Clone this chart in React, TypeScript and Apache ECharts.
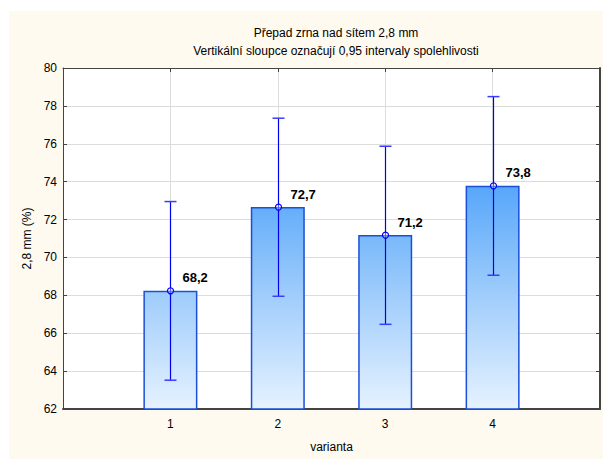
import React, { useEffect, useRef } from "react";
import * as echarts from "echarts";

const categories = [1, 2, 3, 4];
const means = [68.24, 72.66, 71.18, 73.78];
const lower = [63.52, 67.95, 66.47, 69.06];
const upper = [72.95, 77.35, 75.87, 78.49];
const valueLabels = ["68,2", "72,7", "71,2", "73,8"];
const yMin = 62;
const yMax = 80;
const yInterval = 2;
const xMin = 0;
const xMax = 5;

const FONT = "'Liberation Sans', Arial, sans-serif";

export default function App() {
  const ref = useRef<HTMLDivElement>(null);

  useEffect(() => {
    document.body.style.margin = "0";
    if (!ref.current) return;
    const chart = echarts.init(ref.current, undefined, { renderer: "svg" });

    const barColor = new echarts.graphic.LinearGradient(
      0,
      68,
      0,
      409,
      [
        { offset: 0, color: "#3c96f6" },
        { offset: 0.35, color: "#58a7fa" },
        { offset: 0.65, color: "#9ccbfb" },
        { offset: 1, color: "#e6f2ff" },
      ],
      true
    );

    const option: any = {
      animation: false,
      textStyle: { fontFamily: FONT },
      graphic: [
        {
          type: "rect",
          z: -100,
          shape: { x: 9, y: 11, width: 594, height: 448 },
          style: { fill: "#fefaf0" },
        },
      ],
      title: [
        {
          text: "Přepad zrna nad sítem 2,8 mm",
          left: 331,
          top: 22,
          textAlign: "center",
          textStyle: { fontSize: 12, fontWeight: "normal", color: "#000", fontFamily: FONT },
        },
        {
          text: "Vertikální sloupce označují 0,95 intervaly spolehlivosti",
          left: 331,
          top: 40,
          textAlign: "center",
          textStyle: { fontSize: 12, fontWeight: "normal", color: "#000", fontFamily: FONT },
        },
      ],
      grid: {
        left: 63,
        top: 68,
        width: 537,
        height: 341,
        show: true,
        backgroundColor: "#ffffff",
        borderWidth: 0,
      },
      xAxis: [
        {
          type: "value",
          min: xMin,
          max: xMax,
          interval: 1,
          position: "bottom",
          axisLine: { show: true, onZero: false, lineStyle: { color: "#444", width: 2 } },
          axisTick: { show: true, inside: true, length: 4, lineStyle: { color: "#444" } },
          axisLabel: {
            color: "#000",
            fontSize: 12,
            margin: 9,
            fontFamily: FONT,
            formatter: (v: number) => (categories.includes(v) ? String(v) : ""),
          },
          splitLine: { show: true, lineStyle: { color: "#dcdcdc", width: 1 } },
          name: "varianta",
          nameLocation: "middle",
          nameGap: 32,
          nameTextStyle: { color: "#000", fontSize: 12, fontFamily: FONT },
        },
        {
          type: "value",
          min: xMin,
          max: xMax,
          interval: 1,
          position: "top",
          axisLine: { show: true, onZero: false, lineStyle: { color: "#444", width: 1 } },
          axisTick: { show: true, inside: true, length: 4, lineStyle: { color: "#444" } },
          axisLabel: { show: false },
          splitLine: { show: false },
        },
      ],
      yAxis: [
        {
          type: "value",
          min: yMin,
          max: yMax,
          interval: yInterval,
          position: "left",
          axisLine: { show: true, onZero: false, lineStyle: { color: "#444", width: 1 } },
          axisTick: { show: true, inside: true, length: 4, lineStyle: { color: "#444" } },
          axisLabel: { color: "#000", fontSize: 12, margin: 6, fontFamily: FONT },
          splitLine: { show: true, lineStyle: { color: "#dcdcdc", width: 1 } },
          name: "2,8 mm (%)",
          nameLocation: "middle",
          nameGap: 30,
          nameRotate: 90,
          nameTextStyle: { color: "#000", fontSize: 12, fontFamily: FONT },
        },
        {
          type: "value",
          min: yMin,
          max: yMax,
          interval: yInterval,
          position: "right",
          axisLine: { show: true, onZero: false, lineStyle: { color: "#444", width: 2 } },
          axisTick: { show: true, inside: true, length: 4, lineStyle: { color: "#444" } },
          axisLabel: { show: false },
          splitLine: { show: false },
        },
      ],
      series: [
        {
          type: "bar",
          xAxisIndex: 0,
          yAxisIndex: 0,
          barWidth: 54,
          z: 2,
          data: categories.map((c, i) => [c, means[i]]),
          itemStyle: { color: barColor, borderColor: "#1a4fd8", borderWidth: 1.5 },
        },
        {
          type: "custom",
          xAxisIndex: 0,
          yAxisIndex: 0,
          clip: false,
          z: 10,
          data: categories.map((c, i) => [c, means[i], lower[i], upper[i]]),
          encode: { x: 0, y: [1, 2, 3] },
          renderItem: (params: any, api: any) => {
            const x = api.value(0);
            const pm = api.coord([x, api.value(1)]);
            const pl = api.coord([x, api.value(2)]);
            const ph = api.coord([x, api.value(3)]);
            const cx = Math.round(pm[0]) + 0.5;
            const capHalf = 6;
            return {
              type: "group",
              children: [
                {
                  type: "line",
                  shape: { x1: cx, y1: pl[1], x2: cx, y2: ph[1] },
                  style: { stroke: "#0000ee", lineWidth: 1.2 },
                },
                {
                  type: "line",
                  shape: { x1: cx - capHalf, y1: ph[1], x2: cx + capHalf, y2: ph[1] },
                  style: { stroke: "#3b3bff", lineWidth: 1.5 },
                },
                {
                  type: "line",
                  shape: { x1: cx - capHalf, y1: pl[1], x2: cx + capHalf, y2: pl[1] },
                  style: { stroke: "#3b3bff", lineWidth: 1.5 },
                },
                {
                  type: "circle",
                  shape: { cx: cx, cy: pm[1], r: 3 },
                  style: { fill: "rgba(255,255,255,0.35)", stroke: "#0000ee", lineWidth: 1.2 },
                },
                {
                  type: "text",
                  x: cx + 12,
                  y: pm[1] - 13,
                  style: {
                    text: valueLabels[params.dataIndex],
                    fill: "#000",
                    fontSize: 13,
                    fontWeight: "bold",
                    fontFamily: FONT,
                    align: "left",
                    verticalAlign: "middle",
                  },
                },
              ],
            };
          },
        },
      ],
    };

    chart.setOption(option);
    return () => chart.dispose();
  }, []);

  return <div ref={ref} style={{ width: 603, height: 459, background: "#ffffff" }} />;
}
